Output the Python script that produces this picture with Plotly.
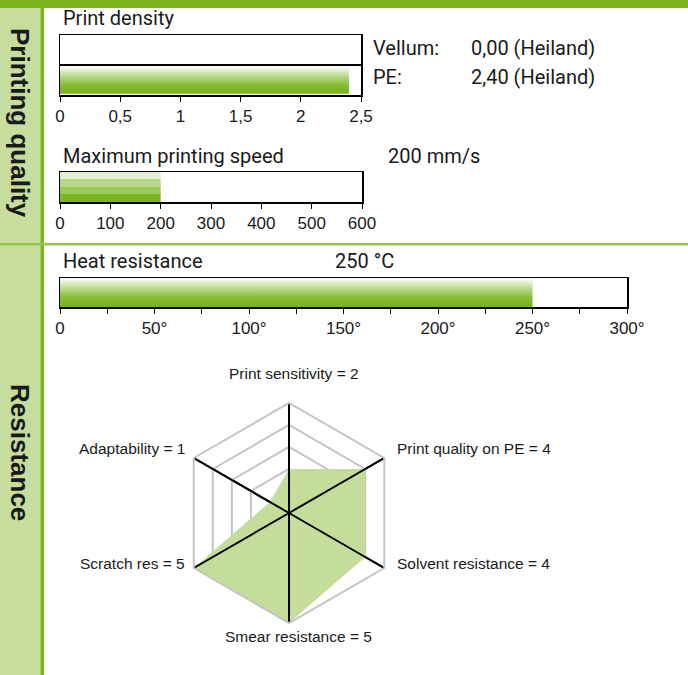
import plotly.graph_objects as go

# ---------------- data ----------------
density_materials = ["Vellum", "PE"]
density_values = [0.00, 2.40]
density_source = "Heiland"
density_ticks = [0, 0.5, 1, 1.5, 2, 2.5]

speed_value = 200
speed_ticks = [0, 100, 200, 300, 400, 500, 600]

heat_value = 250
heat_ticks = [0, 50, 100, 150, 200, 250, 300]

radar_labels = ["Print sensitivity", "Print quality on PE", "Solvent resistance",
                "Smear resistance", "Scratch res", "Adaptability"]
radar_values = [2, 4, 4, 5, 5, 1]
radar_max = 5

# ---------------- helpers ----------------
W, H = 688, 675
def px(x):
    return x / W
def py(y):
    return 1 - y / H

GREEN = "#7ab51d"
LIGHT = "#c6dd9e"
TXT = "#1a1a1a"
TITLE_FONT = dict(family="Roboto", size=20, color=TXT)
TICK_FONT = dict(family="Liberation Sans, Arial", size=17, color=TXT)

grad_scale = [[0, "#76b219"], [0.3, "#84bb30"], [0.65, "#bcdb90"], [1, "#ffffff"]]
stripe_cols = ["#7ab51d", "#9ac85a", "#b8d889", "#e3efd3"]  # bottom -> top
stripe_scale = []
for i, c in enumerate(stripe_cols):
    stripe_scale += [[i / 4, c], [(i + 1) / 4, c]]

fig = go.Figure()

for i, (m, v) in enumerate(zip(density_materials, density_values)):
    row = len(density_materials) - 1 - i
    y0, y1 = row + 0.04, row + 0.96
    fig.add_trace(go.Scatter(
        x=[0, v, v, 0, 0], y=[y0, y0, y1, y1, y0], fill="toself", mode="lines",
        line=dict(width=0), fillgradient=dict(type="vertical", colorscale=grad_scale),
        xaxis="x", yaxis="y", hoverinfo="skip", showlegend=False))

fig.add_trace(go.Scatter(
    x=[0, speed_value, speed_value, 0, 0], y=[0, 0, 1, 1, 0], fill="toself", mode="lines",
    line=dict(width=0), fillgradient=dict(type="vertical", colorscale=stripe_scale),
    xaxis="x2", yaxis="y2", hoverinfo="skip", showlegend=False))

fig.add_trace(go.Scatter(
    x=[0, heat_value, heat_value, 0, 0], y=[0, 0, 1, 1, 0], fill="toself", mode="lines",
    line=dict(width=0), fillgradient=dict(type="vertical", colorscale=grad_scale),
    xaxis="x3", yaxis="y3", hoverinfo="skip", showlegend=False))

fig.add_trace(go.Scatterpolar(
    r=radar_values + radar_values[:1], theta=radar_labels + radar_labels[:1],
    fill="toself", fillcolor="#c5dd9a", mode="lines", line=dict(width=0, color="#c5dd9a"),
    showlegend=False, hoverinfo="skip"))
spoke_r, spoke_t = [], []
for lab in radar_labels:
    spoke_r += [0, radar_max, None]
    spoke_t += [lab, lab, None]
fig.add_trace(go.Scatterpolar(r=spoke_r, theta=spoke_t, mode="lines",
                              line=dict(color="black", width=2), showlegend=False,
                              hoverinfo="skip", connectgaps=False))

box = dict(showline=True, mirror=True, linecolor="black", linewidth=1.5,
           automargin=False, fixedrange=True, zeroline=False)

def fmt_dec(v):
    return ("%g" % v).replace(".", ",")

fig.update_layout(
    width=W, height=H, autosize=False, margin=dict(l=0, r=0, t=0, b=0, pad=0),
    paper_bgcolor="white", plot_bgcolor="white",
    xaxis=dict(domain=[px(60), px(361)], range=[0, 2.5], tickvals=density_ticks,
               ticktext=[fmt_dec(t) for t in density_ticks], ticks="outside", ticklen=5,
               tickcolor="black", showgrid=False, tickfont=TICK_FONT,
               ticklabelstandoff=0, anchor="y", **box),
    yaxis=dict(domain=[py(95), py(35)], range=[0, 2], tickvals=[1], showticklabels=False,
               showgrid=True, gridcolor="black", gridwidth=1.5, ticks="",
               anchor="x", **box),
    xaxis2=dict(domain=[px(60), px(362)], range=[0, 600], tickvals=speed_ticks,
                ticks="outside", ticklen=5, tickcolor="black", showgrid=False,
                tickfont=TICK_FONT, ticklabelstandoff=0, anchor="y2", **box),
    yaxis2=dict(domain=[py(202), py(172)], range=[0, 1], showticklabels=False, showgrid=False,
                ticks="", anchor="x2", **box),
    xaxis3=dict(domain=[px(60), px(627)], range=[0, 300], tickvals=heat_ticks,
                ticktext=[str(t) if t == 0 else "%d°" % t for t in heat_ticks],
                ticks="outside", ticklen=5, tickcolor="black", showgrid=False,
                tickfont=TICK_FONT, ticklabelstandoff=0, anchor="y3",
                minor=dict(dtick=25, tick0=0, ticks="outside", ticklen=5, tickcolor="black",
                           showgrid=False), **box),
    yaxis3=dict(domain=[py(307), py(278)], range=[0, 1], showticklabels=False, showgrid=False,
                ticks="", anchor="x3", **box),
    polar=dict(
        domain=dict(x=[px(179), px(399)], y=[py(623), py(403)]),
        gridshape="linear", bgcolor="white",
        radialaxis=dict(range=[0, radar_max], dtick=1, showticklabels=False, ticks="",
                        showline=False, gridcolor="#c4c4c4", gridwidth=2),
        angularaxis=dict(direction="clockwise", rotation=90, showticklabels=False, ticks="",
                         linecolor="#c4c4c4", linewidth=2, gridcolor="black", gridwidth=2,
                         categoryorder="array", categoryarray=radar_labels),
    ),
)

shapes = [
    dict(type="rect", xref="paper", yref="paper", x0=0, x1=px(41), y0=0, y1=py(8),
         fillcolor=LIGHT, line=dict(width=0), layer="below"),
    dict(type="rect", xref="paper", yref="paper", x0=px(40), x1=px(41), y0=0, y1=py(8),
         fillcolor="#a3cd66", line=dict(width=0), layer="below"),
    dict(type="rect", xref="paper", yref="paper", x0=px(41), x1=px(44), y0=0, y1=py(8),
         fillcolor=GREEN, line=dict(width=0), layer="below"),
    dict(type="rect", xref="paper", yref="paper", x0=0, x1=1, y0=py(8), y1=1,
         fillcolor=GREEN, line=dict(width=0), layer="below"),
    dict(type="rect", xref="paper", yref="paper", x0=0, x1=1, y0=py(245.5), y1=py(243),
         fillcolor="#94c548", line=dict(width=0), layer="below"),
]
fig.update_layout(shapes=shapes)

ann = []
def txt(x, y, s, font=TITLE_FONT, xanchor="left", **kw):
    ann.append(dict(x=px(x), y=py(y), xref="paper", yref="paper", text=s, showarrow=False,
                    xanchor=xanchor, yanchor="middle", font=font, **kw))

txt(61, 18, "Print density")
for i, (m, v) in enumerate(zip(density_materials, density_values)):
    yy = 48 + i * 29
    txt(371, yy, m + ":")
    txt(469, yy, "%s (%s)" % (("%.2f" % v).replace(".", ","), density_source))
txt(61, 156, "Maximum printing speed")
txt(386, 156, "%d mm/s" % speed_value)
txt(61, 261, "Heat resistance")
txt(333, 261, "%d °C" % heat_value)

side_font = dict(family="Liberation Sans, Arial", size=26, color=TXT)
txt(20, 123, "<b>Printing quality</b>", font=side_font, xanchor="center", textangle=90)
txt(20, 452, "<b>Resistance</b>", font=side_font, xanchor="center", textangle=90)

rfont = dict(family="Liberation Sans, Arial", size=15.5, color=TXT)
rlab = ["%s = %d" % (l, v) for l, v in zip(radar_labels, radar_values)]
pos = [(294, 373, "center"), (395, 448, "left"), (395, 563, "left"),
       (298, 636, "center"), (187, 563, "right"), (187, 448, "right")]
for s, (x, y, a) in zip(rlab, pos):
    txt(x, y, s, font=rfont, xanchor=a)

fig.update_layout(annotations=ann)
fig.write_html(
    "out.html",
    config=dict(displayModeBar=False, responsive=False, staticPlot=True),
    post_script=("document.body.style.margin='0';document.body.style.overflow='hidden';"),
)
